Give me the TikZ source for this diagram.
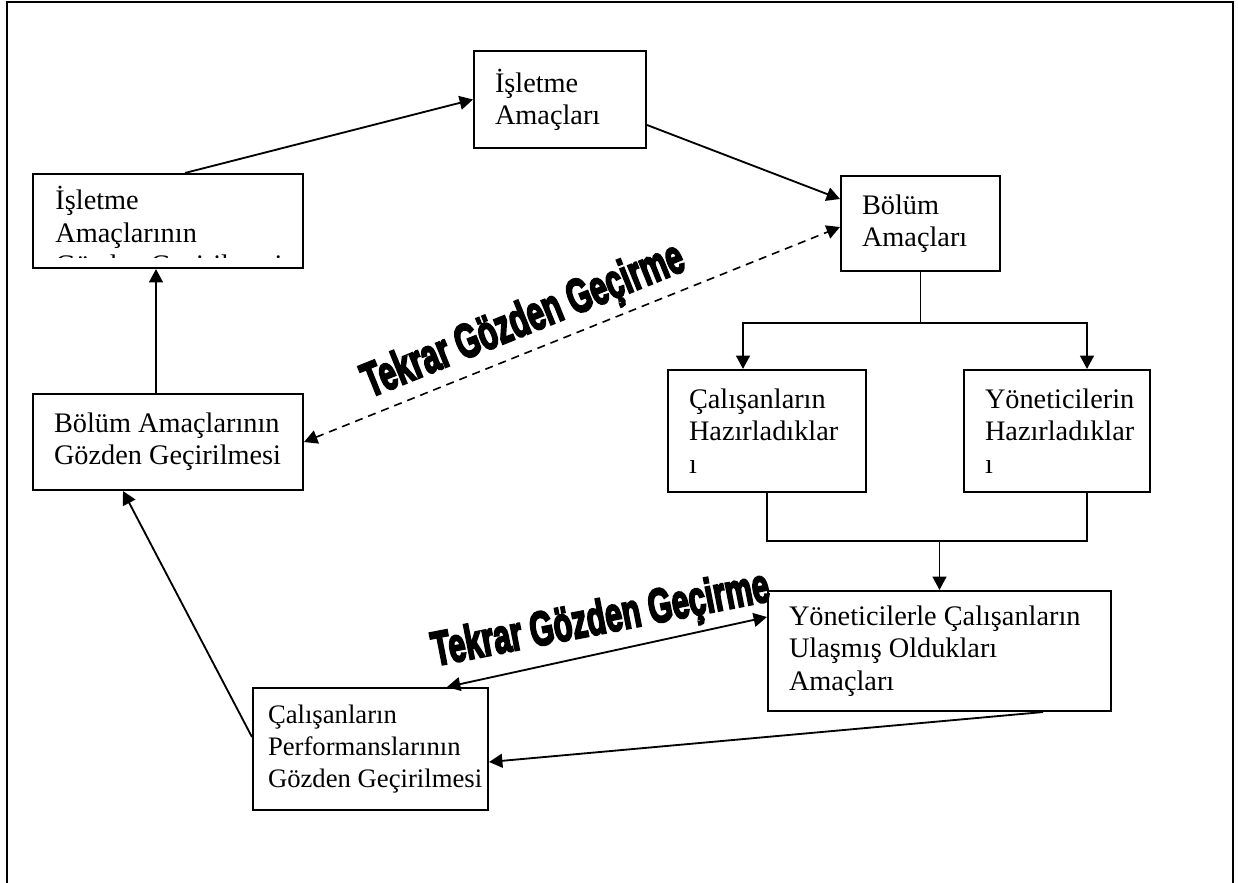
\documentclass[tikz,border=0pt]{standalone}
\usepackage{fontspec}
\setmainfont{Liberation Serif}
\newfontfamily\wordart[FakeBold=5]{Liberation Sans Bold}
\usepackage{graphicx}
\usetikzlibrary{arrows.meta,calc}
\def\u{0.4347pt}
\newcommand\boxfont{\fontsize{12.3pt}{14pt}\selectfont\setlength\baselineskip{14pt}}
\tikzset{
  box/.style={draw, line width=0.9pt, inner ysep=0pt, inner xsep=21*\u,
    align=flush left, font=\boxfont},
  wh/.style 2 args={minimum width=#1*\u, minimum height=#2*\u,
    text width=#1*\u-42*\u},
  line/.style={draw, line width=0.8pt},
  conn/.style={line, -{Triangle[length=5.8pt,width=6pt]}},
  bconn/.style={line, {Triangle[length=5.8pt,width=6pt]}-{Triangle[length=5.8pt,width=6pt]}},
  dconn/.style={draw, line width=0.7pt, dash pattern=on 3.5pt off 2.6pt,
    {Triangle[length=5.8pt,width=6pt]}-{Triangle[length=5.8pt,width=6pt]}},
  frame/.style={draw, line width=0.9pt},
  wa/.style={inner sep=0pt, font=\wordart\fontsize{16}{16}\selectfont}
}
\begin{document}
\begin{tikzpicture}[x=0.4347pt, y=-0.4347pt]
\path[fill=white, use as bounding box] (0,0) rectangle (1238,883);
\draw[frame] (7,900) -- (7,2) -- (1233,2) -- (1233,900);

% boxes
\node[box, wh={172}{97}] (A) at (560,99.5) {İşletme\\Amaçları};
\node[box, wh={270}{94}] (B) at (168,221) {};
\begin{scope}
  \clip (34,175) rectangle (302,257);
  \node[anchor=north west, inner sep=0pt, align=flush left,
    font=\boxfont] (Btext) at (55,186)
    {İşletme\\Amaçlarının\\\mbox{Gözden Geçirilmesi}};
\end{scope}
\node[box, wh={159}{95}] (C) at (920.5,223.5) {Bölüm\\Amaçları};
\node[box, wh={270}{96}] (D) at (168,442)
  {\mbox{Bölüm Amaçlarının}\\\mbox{Gözden Geçirilmesi}};
\node[box, wh={198}{122}] (E) at (767,431) {Çalışanların\\Hazırladıklar\\ı};
\node[box, wh={186}{122}] (F) at (1057,431) {Yöneticilerin\\Hazırladıklar\\ı};
\node[box, wh={343}{120}] (G) at (939.5,651)
  {\mbox{Yöneticilerle Çalışanların}\\\mbox{Ulaşmış Oldukları}\\Amaçları};
\node[box, wh={235}{122}, inner xsep=15*\u, text width=205*\u,
  font=\fontsize{11.6pt}{13.8pt}\selectfont\setlength\baselineskip{13.8pt}]
  (H) at (370.5,749)
  {Çalışanların\\Performanslarının\\\mbox{Gözden Geçirilmesi}};

% connectors
\draw[conn] ($(B.north)+(17,0)$) -- (A.west);
\draw[conn] ($(A.east)+(0,25.5)$) -- ($(C.west)+(0,-24.5)$);
\draw[dconn] (D.east) -- ($(C.west)+(0,3.5)$);

\coordinate (split) at ($(C.south)+(0,51)$);
\draw[line] (C.south) -- (split);
\draw[conn] (split) -| ($(E.north)+(-24,0)$);
\draw[conn] (split) -| ($(F.north)+(30,0)$);

\coordinate (merge) at ($(G.north)+(0,-49)$);
\draw[line] (E.south) |- (merge) -| ($(F.south)+(30,0)$);
\draw[conn] (merge) -- (G.north);

\draw[bconn] ($(H.north)+(76.5,0)$) -- ($(G.west)+(0,-34)$);
\draw[conn] ($(G.south)+(103.5,0)$) -- ($(H.east)+(0,13)$);
\draw[conn] ($(H.west)+(0,-12)$) -- ($(D.south)+(-45,0)$);
\draw[conn] ($(D.north)+(-12,0)$) -- ($(B.south)+(-12,0)$);

% slanted labels
\node[wa, rotate=22] (W1) at (524,322) {\scalebox{0.83}[1.3]{Tekrar Gözden Geçirme}};
\node[wa, rotate=11] (W2) at (601,621) {\scalebox{0.83}[1.3]{Tekrar Gözden Geçirme}};
\end{tikzpicture}
\end{document}
